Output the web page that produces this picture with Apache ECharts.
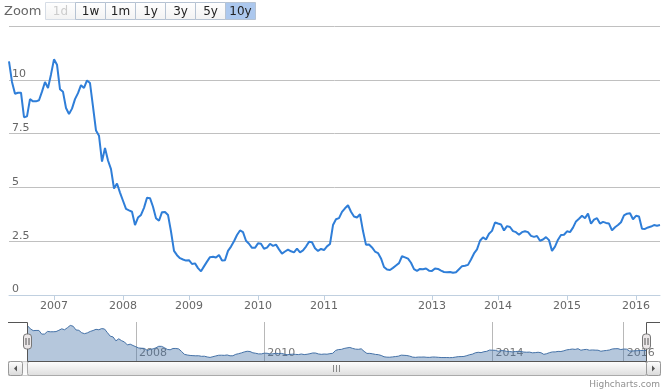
<!DOCTYPE html>
<html><head><meta charset="utf-8">
<script src="https://cdn.jsdelivr.net/npm/echarts@6/dist/echarts.min.js"></script>
<style>html,body{margin:0;padding:0;background:#fff}#c{width:667px;height:391px}</style>
</head><body><div id="c"></div>
<script>
// ---- data ----
const values = [
 10.86, 9.90, 9.35, 9.40, 9.40, 8.26, 8.30, 9.10, 9.00, 9.00,
 9.05, 9.45, 9.90, 9.62, 10.25, 10.95, 10.70, 9.56, 9.44, 8.69,
 8.41, 8.66, 9.10, 9.38, 9.75, 9.62, 9.97, 9.85, 8.75, 7.64,
 7.40, 6.20, 6.83, 6.25, 5.85, 4.95, 5.18, 4.76, 4.38, 4.00,
 3.93, 3.87, 3.25, 3.60, 3.72, 4.05, 4.52, 4.50, 4.10, 3.57,
 3.45, 3.85, 3.86, 3.72, 2.95, 2.05, 1.85, 1.71, 1.65, 1.60,
 1.62, 1.44, 1.47, 1.25, 1.10, 1.33, 1.55, 1.76, 1.78, 1.74,
 1.86, 1.60, 1.62, 2.05, 2.25, 2.50, 2.79, 3.00, 2.92, 2.52,
 2.38, 2.19, 2.19, 2.40, 2.38, 2.15, 2.20, 2.38, 2.28, 2.34,
 2.12, 1.92, 2.02, 2.11, 2.03, 1.98, 2.15, 1.98, 2.07, 2.25,
 2.47, 2.45, 2.17, 2.05, 2.14, 2.09, 2.26, 2.37, 3.25, 3.52,
 3.57, 3.86, 4.03, 4.17, 3.87, 3.65, 3.60, 3.75, 2.97, 2.33,
 2.35, 2.21, 2.02, 1.95, 1.70, 1.30, 1.18, 1.16, 1.26, 1.37,
 1.48, 1.80, 1.75, 1.69, 1.50, 1.20, 1.12, 1.21, 1.20, 1.23,
 1.13, 1.12, 1.23, 1.21, 1.13, 1.07, 1.06, 1.07, 1.03, 1.06,
 1.20, 1.34, 1.36, 1.40, 1.65, 1.93, 2.12, 2.52, 2.68, 2.58,
 2.85, 2.98, 3.37, 3.32, 3.28, 3.00, 3.20, 3.16, 2.97, 2.92,
 2.80, 2.92, 2.96, 2.92, 2.75, 2.70, 2.74, 2.52, 2.58, 2.69,
 2.55, 2.05, 2.25, 2.57, 2.79, 2.80, 2.96, 2.92, 3.13, 3.42,
 3.54, 3.68, 3.57, 3.78, 3.31, 3.50, 3.57, 3.32, 3.40, 3.35,
 3.32, 3.00, 3.15, 3.25, 3.38, 3.70, 3.78, 3.80, 3.52, 3.68,
 3.65, 3.08, 3.07, 3.14, 3.18, 3.25, 3.22, 3.25
];
const firstYear = '2006';
const yearLabels = ['2007','2008','2009','2010','2011','2013','2014','2015','2016'];
const yearStartIndex = [15, 38, 60, 83, 105, 141, 163, 186, 209];
const navigatorYearLabels = ['2008','2010','2014','2016'];
const yMin = 0, yMax = 12.5, yStep = 2.5;
const zoomLabel = 'Zoom';
const zoomButtons = ['1d','1w','1m','1y','3y','5y','10y'];
const disabledButton = '1d';
const selectedButton = '10y';
const creditText = 'Highcharts.com';

// categories: one per data point, tagged with its year
const categories = values.map((v, i) => {
  let y = firstYear, s = 0;
  yearStartIndex.forEach((idx, k) => { if (i >= idx) { y = yearLabels[k]; s = idx; } });
  return y + '#' + (i - s);
});
const isYearStart = (i) => yearStartIndex.indexOf(i) >= 0;
const isNavYear = (i) => isYearStart(i) && navigatorYearLabels.indexOf(categories[i].slice(0,4)) >= 0;

const FONT = 'DejaVu Sans';
const chart = echarts.init(document.getElementById('c'), null, {renderer: 'canvas'});

// ---- decorations (range selector, navigator outline, handles, scrollbar, credit) ----
const g = [];
g.push({type:'text', x:4, y:12, style:{text:zoomLabel, fill:'#666', fontSize:13, fontFamily:FONT, verticalAlign:'middle'}});
zoomButtons.forEach((b, i) => {
  const x0 = 45.5 + 30 * i;
  const sel = b === selectedButton, dis = b === disabledButton;
  g.push({type:'rect', shape:{x:x0, y:2.5, width:30, height:17},
    style:{fill: sel ? '#acc8ee' : new echarts.graphic.LinearGradient(0,0,0,1,[{offset:0,color:'#ffffff'},{offset:1,color:'#f2f2f2'}]),
      stroke: dis ? '#d6dde6' : '#b6c3d3', lineWidth:1}});
  g.push({type:'text', x:x0 + 15, y:11.5, style:{text:b, fill: dis ? '#cccccc' : '#222', fontSize:12, fontFamily:FONT, align:'center', verticalAlign:'middle'}, z:10});
});
// navigator outline
g.push({type:'polyline', shape:{points:[[8,322.5],[27.5,322.5],[27.5,361.5],[646.5,361.5],[646.5,322.5],[660,322.5]]},
  style:{stroke:'#555', lineWidth:1, fill:null}, z:20});
// scrollbar
g.push({type:'rect', shape:{x:8.5, y:361.5, width:652, height:14},
  style:{fill:new echarts.graphic.LinearGradient(0,0,0,1,[{offset:0,color:'#eeeeee'},{offset:1,color:'#ffffff'}]), stroke:'#cccccc'}, z:15});
g.push({type:'rect', shape:{x:27.5, y:361.5, width:619, height:14, r:2},
  style:{fill:new echarts.graphic.LinearGradient(0,0,0,1,[{offset:0,color:'#ffffff'},{offset:1,color:'#dddddd'}]), stroke:'#aaaaaa'}, z:16});
[333.5, 336.5, 339.5].forEach(x => g.push({type:'line', shape:{x1:x, y1:365, x2:x, y2:372}, style:{stroke:'#888', lineWidth:1}, z:17}));
[[8.5, 'l'], [646.5, 'r']].forEach(([x, d]) => {
  g.push({type:'rect', shape:{x:x, y:361.5, width:14, height:14, r:2},
    style:{fill:new echarts.graphic.LinearGradient(0,0,0,1,[{offset:0,color:'#ffffff'},{offset:1,color:'#d8d8d8'}]), stroke:'#999999'}, z:17});
  const cx = x + 7;
  const pts = d === 'l' ? [[cx+1.5,365.5],[cx+1.5,371.5],[cx-1.5,368.5]] : [[cx-1.5,365.5],[cx-1.5,371.5],[cx+1.5,368.5]];
  g.push({type:'polygon', shape:{points:pts}, style:{fill:'#555'}, z:18});
});
// navigator handles
[27.5, 646.5].forEach(cx => {
  g.push({type:'rect', shape:{x:cx-4, y:334, width:8, height:15, r:3}, style:{fill:'#ebe7e8', stroke:'#777', lineWidth:1}, z:21});
  g.push({type:'line', shape:{x1:cx-1.5, y1:338, x2:cx-1.5, y2:345}, style:{stroke:'#555', lineWidth:1}, z:22});
  g.push({type:'line', shape:{x1:cx+1.5, y1:338, x2:cx+1.5, y2:345}, style:{stroke:'#555', lineWidth:1}, z:22});
});
g.push({type:'text', x:660, y:385, style:{text:creditText, fill:'#909090', fontSize:9, fontFamily:FONT, align:'right', verticalAlign:'middle'}});

const option = {
  animation: false,
  backgroundColor: '#ffffff',
  textStyle: {fontFamily: FONT},
  grid: [
    {left: 9, right: 7, top: 26, bottom: 96, containLabel: false},
    {left: 27.5, right: 20.5, top: 322, bottom: 30, containLabel: false}
  ],
  xAxis: [
    {type:'category', gridIndex:0, data:categories, boundaryGap:false,
     axisLine:{show:true, lineStyle:{color:'#C0D0E0', width:1}},
     axisTick:{show:true, interval:(i)=>isYearStart(i), length:5, lineStyle:{color:'#C0D0E0'}},
     axisLabel:{show:true, interval:(i)=>isYearStart(i), formatter:(v)=>v.slice(0,4), color:'#666', fontSize:11, fontFamily:FONT, margin:6},
     splitLine:{show:false}},
    {type:'category', gridIndex:1, data:categories, boundaryGap:false,
     axisLine:{show:false}, axisTick:{show:false},
     axisLabel:{show:true, inside:true, interval:(i)=>isNavYear(i), formatter:(v)=>v.slice(0,4), color:'#777', fontSize:11, fontFamily:FONT, margin:2, align:'left', padding:[0,0,0,3]},
     splitLine:{show:true, interval:(i)=>isNavYear(i), lineStyle:{color:'#b8b8b8', width:1}}}
  ],
  yAxis: [
    {type:'value', gridIndex:0, min:yMin, max:yMax, interval:yStep,
     axisLine:{show:false}, axisTick:{show:false},
     axisLabel:{inside:true, showMaxLabel:false, color:'#666', fontSize:11, fontFamily:FONT, margin:3, verticalAlign:'bottom',
       formatter:(v)=> v === yMax ? '' : String(v)},
     splitLine:{show:true, lineStyle:{color:'#C0C0C0', width:1}}},
    {type:'value', gridIndex:1, min:0, max:12, show:false, splitLine:{show:false}}
  ],
  series: [
    {type:'line', xAxisIndex:0, yAxisIndex:0, data:values, symbol:'none', showSymbol:false,
     lineStyle:{color:'#2f7ed8', width:2}, z:5},
    {type:'line', xAxisIndex:1, yAxisIndex:1, data:values, symbol:'none', showSymbol:false,
     lineStyle:{color:'#4572A7', width:1}, areaStyle:{color:'rgba(69,114,167,0.4)', opacity:1}, z:3}
  ],
  graphic: {elements: g}
};
chart.setOption(option);
</script></body></html>
